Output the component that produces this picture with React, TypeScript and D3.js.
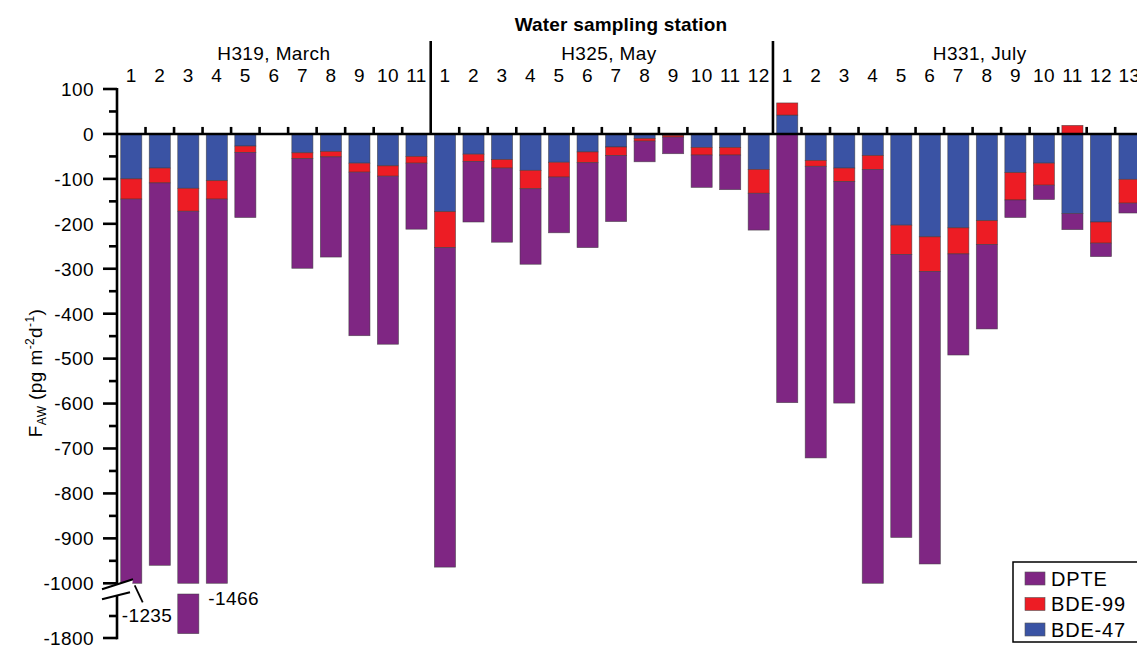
import { useRef, useEffect } from "react";
import * as d3 from "d3";

// stations per cruise
const groups = ["H319, March", "H325, May", "H331, July"];
const h319 = ["1", "2", "3", "4", "5", "6", "7", "8", "9", "10", "11"];
const h325 = ["1", "2", "3", "4", "5", "6", "7", "8", "9", "10", "11", "12"];
const h331 = ["1", "2", "3", "4", "5", "6", "7", "8", "9", "10", "11", "12", "13"];

// F_AW, pg m-2 d-1 (null = no sample)
const bde47 = [
  -100, -76, -121, -104, -27, null, -42, -39, -65, -71, -50,
  -173, -45, -57, -81, -63, -40, -29, -10, -3, -30, -30, -79,
  42, -59, -76, -48, -203, -229, -209, -193, -86, -65, -177, -196, -101,
];
const bde99 = [
  -45, -33, -51, -41, -14, null, -13, -12, -20, -23, -15,
  -80, -16, -19, -41, -33, -24, -19, -6, -4, -17, -17, -53,
  27, -13, -30, -31, -65, -77, -58, -53, -61, -49, 19, -47, -53,
];
const dpte = [
  -1090, -851, -1618, -1321, -145, null, -244, -223, -364, -374, -147,
  -711, -135, -165, -168, -124, -189, -147, -46, -37, -72, -77, -82,
  -598, -649, -493, -921, -630, -651, -225, -188, -39, -32, -36, -30, -22,
];

const seriesKeys = ["bde47", "bde99", "dpte"];
const seriesNames = ["DPTE", "BDE-99", "BDE-47"];
const colors: Record<string, string> = { bde47: "#3a53a4", bde99: "#ed1c24", dpte: "#7f2683" };

const upperTicks = d3.range(-1000, 101, 100);
const lowerTicks = [-1800];

const FONT = "'Liberation Sans', Arial, sans-serif";

const FluxChart = () => {
  const svgRef = useRef<SVGSVGElement>(null);
  const width = 1137;
  const height = 648;

  useEffect(() => {
    const svg: any = d3.select(svgRef.current);
    svg.selectAll("*").remove();

    const stationLabels = [...h319, ...h325, ...h331];
    const keys = stationLabels.map((s, i) => `${i}-${s}`);
    const groupSizes = [h319.length, h325.length, h331.length];

    const step = 28.52;
    const x = d3.scaleBand()
      .domain(keys)
      .range([117, 117 + keys.length * step])
      .paddingInner(0.26)
      .paddingOuter(0.13);
    const x0 = 117;

    const yTop = d3.scaleLinear().domain([-1000, 100]).range([583.3, 89]);
    const yLow = d3.scaleLinear().domain([-1800, -1700]).range([638, 594]);

    const rows = keys.map((k, i) => ({
      key: k,
      bde47: bde47[i] ?? 0,
      bde99: bde99[i] ?? 0,
      dpte: dpte[i] ?? 0,
    }));
    const stacked = d3.stack<any>().keys(seriesKeys).offset(d3.stackOffsetDiverging)(rows);

    const bars = svg.append("g");
    stacked.forEach((layer: any) => {
      layer.forEach((seg: any, i: number) => {
        const lo = Math.min(seg[0], seg[1]);
        const hi = Math.max(seg[0], seg[1]);
        if (hi - lo <= 0) return;
        const bx = x(keys[i]) as number;
        const a = Math.max(lo, -1000);
        const b = Math.min(hi, 100);
        if (b > a) {
          bars.append("rect")
            .attr("x", bx).attr("width", x.bandwidth())
            .attr("y", yTop(b)).attr("height", yTop(a) - yTop(b))
            .attr("fill", colors[layer.key])
            .attr("stroke", "#3b3b3b").attr("stroke-width", 0.7).attr("stroke-opacity", 0.7);
        }
        if (lo < -1700) {
          const c = Math.max(lo, -1800);
          const d = Math.min(hi, -1700);
          bars.append("rect")
            .attr("x", bx).attr("width", x.bandwidth())
            .attr("y", yLow(d)).attr("height", yLow(c) - yLow(d))
            .attr("fill", colors[layer.key])
            .attr("stroke", "#3b3b3b").attr("stroke-width", 0.7).attr("stroke-opacity", 0.7);
        }
      });
    });

    const axis = svg.append("g").attr("stroke", "#000").attr("stroke-width", 2.6);

    // zero line and station ticks
    axis.append("line").attr("x1", 117).attr("x2", width + 5).attr("y1", yTop(0)).attr("y2", yTop(0));
    const bounds: number[] = [];
    let acc = 0;
    groupSizes.forEach(n => { acc += n; bounds.push(acc); });
    for (let k = 1; k <= keys.length; k++) {
      const px = x0 + k * x.step();
      if (bounds.includes(k) && k < keys.length) {
        axis.append("line").attr("x1", px).attr("x2", px).attr("y1", 41).attr("y2", yTop(0));
      } else {
        axis.append("line").attr("x1", px).attr("x2", px).attr("y1", yTop(0) - 7).attr("y2", yTop(0));
      }
    }

    // y axis, broken
    axis.append("line").attr("x1", 117).attr("x2", 117).attr("y1", yTop(100) - 1).attr("y2", yTop(-1000) + 6);
    axis.append("line").attr("x1", 117).attr("x2", 117).attr("y1", yTop(-1000) + 12).attr("y2", yLow(-1800) + 1.3);
    upperTicks.forEach(t => {
      axis.append("line").attr("x1", 103).attr("x2", 117).attr("y1", yTop(t)).attr("y2", yTop(t));
      if (t < 100) {
        const m = t + 50;
        axis.append("line").attr("x1", 109).attr("x2", 117).attr("y1", yTop(m)).attr("y2", yTop(m));
      }
    });
    lowerTicks.forEach(t => {
      axis.append("line").attr("x1", 103).attr("x2", 117).attr("y1", yLow(t)).attr("y2", yLow(t));
      axis.append("line").attr("x1", 109).attr("x2", 117).attr("y1", yLow(t + 50)).attr("y2", yLow(t + 50));
    });

    // break marks
    const yb = yTop(-1000);
    svg.append("polygon")
      .attr("points", `102,${yb + 6} 133,${yb - 4} 131,${yb + 8} 102,${yb + 16}`)
      .attr("fill", "#fff");
    const brk = svg.append("g").attr("stroke", "#000").attr("stroke-width", 2.2);
    brk.append("line").attr("x1", 102).attr("y1", yb + 6).attr("x2", 133).attr("y2", yb - 4);
    brk.append("line").attr("x1", 102).attr("y1", yb + 16).attr("x2", 130).attr("y2", yb + 9);

    const text = svg.append("g").attr("font-family", FONT).attr("font-size", 19)
      .attr("letter-spacing", 0.4).attr("fill", "#000");
    upperTicks.forEach(t => {
      text.append("text").attr("x", 94).attr("y", yTop(t)).attr("dy", "0.36em")
        .attr("text-anchor", "end").text(String(t));
    });
    lowerTicks.forEach(t => {
      text.append("text").attr("x", 94).attr("y", yLow(t)).attr("dy", "0.36em")
        .attr("text-anchor", "end").text(String(t));
    });

    // off-scale totals
    const totals = keys.map((_, i) => (bde47[i] ?? 0) + (bde99[i] ?? 0) + (dpte[i] ?? 0));
    const offScale = totals.map((t, i) => ({ t, i })).filter(d => d.t < -1000 && d.t > -1700);
    offScale.forEach((d, j) => {
      const bx = x(keys[d.i]) as number;
      if (j === 0) {
        brk.append("line").attr("x1", bx + 14).attr("y1", yb + 2).attr("x2", bx + 22).attr("y2", yb + 19)
          .attr("stroke-width", 1.8);
        text.append("text").attr("x", bx + 1).attr("y", yb + 39).text(String(Math.round(d.t)));
      } else {
        text.append("text").attr("x", bx + 2).attr("y", yb + 22).text(String(Math.round(d.t)));
      }
    });

    // station numbers
    keys.forEach((k, i) => {
      text.append("text").attr("x", (x(k) as number) + x.bandwidth() / 2).attr("y", 82)
        .attr("text-anchor", "middle").text(stationLabels[i]);
    });

    // cruise labels
    const labelShift = [0, 0.25, 0.75];
    let start = 0;
    groups.forEach((g, gi) => {
      const n = groupSizes[gi];
      const cx = x0 + (start + n / 2 + labelShift[gi]) * x.step();
      text.append("text").attr("x", cx).attr("y", 60).attr("text-anchor", "middle").text(g);
      start += n;
    });

    text.append("text").attr("x", 621).attr("y", 31).attr("text-anchor", "middle")
      .attr("font-weight", "bold").attr("letter-spacing", 0.2).text("Water sampling station");

    // y title
    const yt = text.append("text").attr("transform", "translate(42,373) rotate(-90)")
      .attr("text-anchor", "middle");
    yt.append("tspan").text("F");
    yt.append("tspan").attr("font-size", 12).attr("dy", 4).text("AW");
    yt.append("tspan").attr("dy", -4).text(" (pg m");
    yt.append("tspan").attr("font-size", 12).attr("dy", -8).text("-2");
    yt.append("tspan").attr("dy", 8).text("d");
    yt.append("tspan").attr("font-size", 12).attr("dy", -8).text("-1");
    yt.append("tspan").attr("dy", 8).text(")");

    // legend
    const lg = svg.append("g").attr("transform", "translate(1013,562)");
    lg.append("rect").attr("width", 135).attr("height", 80)
      .attr("fill", "#fff").attr("stroke", "#000").attr("stroke-width", 1.5);
    ["dpte", "bde99", "bde47"].forEach((k, i) => {
      lg.append("rect").attr("x", 12).attr("y", 10 + i * 25.5).attr("width", 20).attr("height", 13)
        .attr("fill", colors[k]).attr("stroke", "#555").attr("stroke-width", 0.6);
      lg.append("text").attr("x", 38).attr("y", 16.5 + i * 25.5).attr("dy", "0.36em")
        .attr("font-family", FONT).attr("font-size", 20).attr("letter-spacing", 0.8).text(seriesNames[i]);
    });
  }, []);

  return (
    <svg ref={svgRef} width={width} height={height}
      style={{ position: "absolute", left: 0, top: 0, background: "#fff" }} />
  );
};

export default function App() {
  return <FluxChart />;
}
